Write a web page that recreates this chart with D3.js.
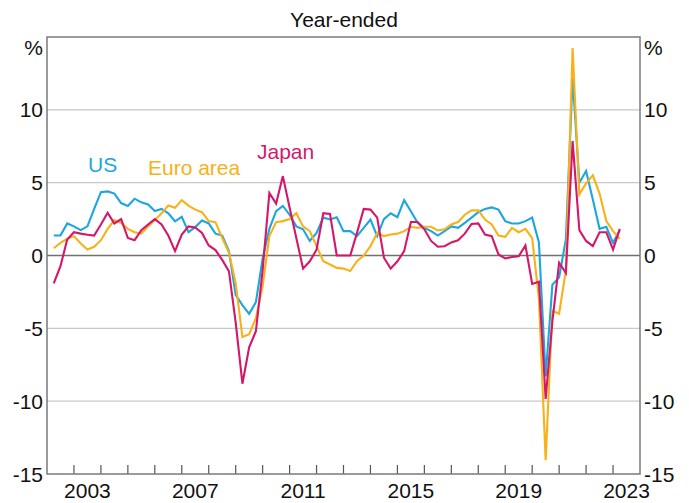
<!DOCTYPE html>
<html>
<head>
<meta charset="utf-8">
<script src="https://cdn.jsdelivr.net/npm/d3@7"></script>
<style>
  body { margin: 0; background: #fff; }
  svg { display: block; font-family: "Liberation Sans", Arial, sans-serif; }
</style>
</head>
<body>
<div id="chart"></div>
<script>
// year-ended GDP growth, quarterly, 2002 Q1 to 2023 Q1
const firstYear = 2002;
const quarterCount = 85;
const quarters = d3.range(quarterCount).map((i) => firstYear + (i + 1) / 4);

const usGrowth = [
	1.37, 1.37, 2.2, 2.0, 1.74, 2.0, 3.2, 4.35, 4.4, 4.25, 3.6, 3.4, 3.9, 3.65, 3.5, 3.05,
	3.2, 2.9, 2.35, 2.65, 1.6, 1.95, 2.4, 2.2, 1.5, 1.37, 0.3, -2.7, -3.4, -4.0, -3.2, -0.2,
	1.83, 3.04, 3.4, 2.8, 2.0, 1.8, 1.0, 1.55, 2.6, 2.47, 2.63, 1.67, 1.67, 1.33, 1.9, 2.47,
	1.33, 2.5, 2.9, 2.63, 3.8, 3.04, 2.24, 1.9, 1.67, 1.37, 1.67, 2.0, 1.9, 2.24, 2.6, 2.97,
	3.2, 3.3, 3.15, 2.36, 2.2, 2.2, 2.36, 2.6, 0.9, -8.3, -2.0, -1.5, 1.1, 12.2, 5.0, 5.8,
	3.85, 1.83, 1.97, 0.87, 1.74,
];
const euroGrowth = [
	0.5, 0.87, 1.15, 1.33, 0.82, 0.41, 0.6, 1.05, 1.83, 2.43, 2.24, 1.83, 1.6, 1.5, 2.0, 2.43,
	2.9, 3.43, 3.27, 3.8, 3.43, 3.15, 2.97, 2.36, 2.29, 1.2, 0.2, -1.9, -5.6, -5.4, -4.3, -2.1,
	1.33, 2.29, 2.36, 2.5, 2.9, 2.0, 1.67, 0.64, -0.39, -0.62, -0.85, -0.9, -1.07, -0.39, 0.0, 0.64,
	1.55, 1.33, 1.44, 1.5, 1.67, 1.97, 1.9, 1.97, 1.97, 1.72, 1.8, 2.13, 2.3, 2.8, 3.1, 3.1,
	2.47, 2.13, 1.37, 1.28, 1.9, 1.6, 1.83, 1.2, -3.0, -14.05, -3.8, -4.0, -1.0, 14.25, 4.2, 4.95,
	5.5, 4.25, 2.36, 1.67, 1.14,
];
const japanGrowth = [
	-1.92, -0.73, 1.1, 1.6, 1.5, 1.42, 1.37, 2.13, 2.93, 2.2, 2.5, 1.2, 1.05, 1.74, 2.13, 2.5,
	2.13, 1.37, 0.3, 1.44, 2.0, 1.92, 1.55, 0.69, 0.37, -0.3, -1.08, -4.6, -8.8, -6.3, -5.2, -1.0,
	4.3, 3.57, 5.45, 3.3, 1.2, -0.9, -0.4, 0.4, 2.9, 2.85, 0.0, 0.0, 0.0, 1.55, 3.2, 3.15,
	2.6, -0.15, -0.9, -0.4, 0.3, 2.3, 2.3, 1.8, 1.0, 0.6, 0.64, 0.9, 1.05, 1.5, 2.17, 2.2,
	1.44, 1.33, 0.07, -0.2, -0.1, -0.05, 0.69, -1.95, -1.8, -9.84, -4.5, -0.5, -1.2, 7.85, 1.74, 1.0,
	0.64, 1.6, 1.6, 0.41, 1.83,
];

const seriesNames = ['US', 'Euro area', 'Japan'];
const seriesValues = [usGrowth, euroGrowth, japanGrowth];
const seriesColours = ['#1ca6e0', '#f8b118', '#d3186b'];

const yTickValues = [10, 5, 0, -5, -10, -15];
const xTickYears = d3.range(2003, 2024);
const xLabelYears = [2003, 2007, 2011, 2015, 2019, 2023];

const width = 689;
const height = 503;
const plotLeft = 47;
const plotRight = 640;
const plotTop = 37;
const plotBottom = 474;
const fontSize = '21px';

const svg = d3
	.select('#chart')
	.append('svg')
	.attr('width', width)
	.attr('height', height);

const x = d3.scaleLinear().domain([2002, 2024]).range([plotLeft, plotRight]);
const y = d3.scaleLinear().domain([-15, 15]).range([plotBottom, plotTop]);

// grid lines
svg
	.append('g')
	.selectAll('line')
	.data(yTickValues.filter((d) => d !== 0 && d !== -15))
	.join('line')
	.attr('x1', plotLeft)
	.attr('x2', plotRight)
	.attr('y1', (d) => y(d))
	.attr('y2', (d) => y(d))
	.attr('stroke', '#c8c8c8')
	.attr('stroke-width', 1.3);

svg
	.append('line')
	.attr('x1', plotLeft)
	.attr('x2', plotRight)
	.attr('y1', y(0))
	.attr('y2', y(0))
	.attr('stroke', '#707070')
	.attr('stroke-width', 1.6);

// year ticks on the bottom axis
svg
	.append('g')
	.selectAll('line')
	.data(xTickYears)
	.join('line')
	.attr('x1', (d) => x(d))
	.attr('x2', (d) => x(d))
	.attr('y1', plotBottom)
	.attr('y2', plotBottom - 9)
	.attr('stroke', '#555')
	.attr('stroke-width', 1.2);

// series lines
const line = d3
	.line()
	.x((d, i) => x(quarters[i]))
	.y((d) => y(d));

svg
	.append('g')
	.selectAll('path')
	.data(seriesValues)
	.join('path')
	.attr('d', line)
	.attr('fill', 'none')
	.attr('stroke', (d, i) => seriesColours[i])
	.attr('stroke-width', 2.1)
	.attr('stroke-linejoin', 'miter');

// frame
svg
	.append('rect')
	.attr('x', plotLeft)
	.attr('y', plotTop)
	.attr('width', plotRight - plotLeft)
	.attr('height', plotBottom - plotTop)
	.attr('fill', 'none')
	.attr('stroke', '#7a7a7a')
	.attr('stroke-width', 1.5);

// y labels, both sides
const yLabels = svg.append('g').style('font-size', fontSize).attr('fill', '#111');

yLabels
	.selectAll('.left')
	.data(yTickValues)
	.join('text')
	.attr('class', 'left')
	.attr('x', plotLeft - 4)
	.attr('y', (d) => y(d) + 7.5)
	.attr('text-anchor', 'end')
	.text((d) => d);

yLabels
	.selectAll('.right')
	.data(yTickValues)
	.join('text')
	.attr('class', 'right')
	.attr('x', plotRight + 4)
	.attr('y', (d) => y(d) + 7.5)
	.attr('text-anchor', 'start')
	.text((d) => d);

yLabels
	.append('text')
	.attr('x', plotLeft - 4)
	.attr('y', 55)
	.attr('text-anchor', 'end')
	.text('%');

yLabels
	.append('text')
	.attr('x', plotRight + 4)
	.attr('y', 55)
	.attr('text-anchor', 'start')
	.text('%');

// x labels, centred in the year
svg
	.append('g')
	.selectAll('text')
	.data(xLabelYears)
	.join('text')
	.attr('x', (d) => x(d + 0.5))
	.attr('y', 498)
	.attr('text-anchor', 'middle')
	.style('font-size', fontSize)
	.attr('fill', '#111')
	.text((d) => d);

svg
	.append('text')
	.attr('x', 344)
	.attr('y', 27)
	.attr('text-anchor', 'middle')
	.style('font-size', fontSize)
	.attr('fill', '#111')
	.text('Year-ended');

// series labels
const labelPos = [
	{ x: 88, y: 172 },
	{ x: 148, y: 175 },
	{ x: 257, y: 159 },
];

svg
	.append('g')
	.selectAll('text')
	.data(seriesNames)
	.join('text')
	.attr('x', (d, i) => labelPos[i].x)
	.attr('y', (d, i) => labelPos[i].y)
	.style('font-size', fontSize)
	.attr('fill', (d, i) => seriesColours[i])
	.text((d) => d);
</script>
</body>
</html>
